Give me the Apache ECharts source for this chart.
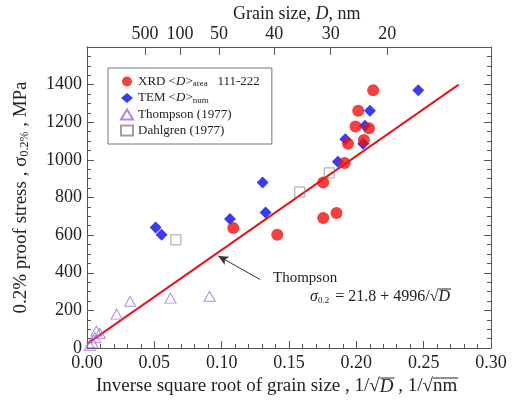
<!DOCTYPE html>
<html>
<head>
<meta charset="utf-8">
<script src="https://cdn.jsdelivr.net/npm/echarts@6/dist/echarts.min.js"></script>
<style>
  html, body {margin: 0; padding: 0; background: #fff;}
  #chart {width: 512px; height: 407px;}
</style>
</head>
<body>
<div id="chart"></div>
<script>
// values: [1/sqrt(D), stress MPa]
var xrdPoints = [[0.1086, 638], [0.1413, 602], [0.1754, 691], [0.1853, 718], [0.1754, 880], [0.1913, 984],
  [0.1938, 1086], [0.2056, 1106], [0.2094, 1168], [0.1994, 1177], [0.2014, 1261], [0.2125, 1370]];
var temPoints = [[0.051, 641], [0.0554, 602], [0.1062, 686], [0.1304, 880], [0.1326, 720], [0.1863, 990],
  [0.1918, 1109], [0.2051, 1086], [0.2064, 1182], [0.2101, 1261], [0.246, 1370]];
var thompsonPoints = [[0.002, 15], [0.004, 30], [0.006, 55], [0.007, 90], [0.0095, 78], [0.022, 180],
  [0.032, 248], [0.062, 265], [0.091, 275]];
var dahlgrenPoints = [[0.066, 575], [0.158, 829], [0.1799, 931]];

// Thompson fit line ends
var fitX = [0, 0.276];
var fitY = [22, 1400];

// top axis (grain size) ticks, as placed in the picture
var topTickPos = [0.043, 0.069, 0.098, 0.139, 0.181, 0.223];
var topTickLabels = ['500', '100', '50', '40', '30', '20'];

var arrowFrom = [0.1286, 364];
var arrowTo = [0.0975, 489];

var serif = '"Liberation Serif", "DejaVu Serif", serif';
var axisColor = '#555';

var chart = echarts.init(document.getElementById('chart'));

var fitLine = fitX.map(function (x, i) { return [x, fitY[i]]; });

// text width helper, used to put the bars over the square roots
var ctx = document.createElement('canvas').getContext('2d');
function textW(str, size, italic) {
    ctx.font = (italic ? 'italic ' : '') + size + 'px ' + serif;
    return ctx.measureText(str).width;
}

var xTitleLeft = 96, xTitleTop = 377, xTitleSize = 19;
var xPre = 'Inverse square root of grain size , 1/√';
var bar1Start = xTitleLeft + textW(xPre, xTitleSize);
var bar1End = bar1Start + textW('D', xTitleSize, true);
var bar2Start = bar1End + textW(' , 1/√', xTitleSize);
var bar2End = bar2Start + textW('nm', xTitleSize);

var fLeft = 310, fTop = 289, fSize = 16;
var bar3Start = fLeft + textW('σ', fSize, true) + textW('0.2', 9) + 2 + textW(' = 21.8 + 4996/√', fSize);
var bar3End = bar3Start + textW('D', fSize, true);

function bar(x1, x2, y) {
    return {
        type: 'line',
        shape: {x1: x1, y1: y, x2: x2 + 1, y2: y},
        style: {stroke: '#222', lineWidth: 1}
    };
}

var option = {
    backgroundColor: '#fff',
    animation: false,
    textStyle: {fontFamily: serif},
    grid: {left: 87, right: 21, top: 47, bottom: 59},
    legend: {
        orient: 'vertical',
        left: 108,
        top: 68,
        itemWidth: 12,
        itemHeight: 10,
        itemGap: 3,
        padding: [7, 12, 7, 12],
        borderColor: '#777',
        borderWidth: 1,
        data: ['XRD', 'TEM', 'Thompson (1977)', 'Dahlgren (1977)'],
        textStyle: {
            fontFamily: serif, fontSize: 13, color: '#222',
            rich: {
                n: {fontFamily: serif, fontSize: 13, color: '#222'},
                i: {fontFamily: serif, fontSize: 13, fontStyle: 'italic', color: '#222'},
                s: {fontFamily: serif, fontSize: 9, color: '#222', verticalAlign: 'bottom', padding: [5, 0, 0, 0]}
            }
        },
        formatter: function (name) {
            if (name === 'XRD') return '{n|XRD <}{i|D}{n|>}{s|area}{n|   111-222}';
            if (name === 'TEM') return '{n|TEM <}{i|D}{n|>}{s|num}';
            return '{n|' + name + '}';
        }
    },
    xAxis: [{
        type: 'value',
        min: 0, max: 0.3, interval: 0.05,
        position: 'bottom',
        axisLine: {show: true, onZero: false, lineStyle: {color: axisColor, width: 1}},
        axisTick: {show: true, inside: true, length: 7, lineStyle: {color: axisColor}},
        minorTick: {show: true, splitNumber: 5, length: 4, lineStyle: {color: axisColor}},
        splitLine: {show: false},
        axisLabel: {
            color: '#222', fontSize: 18, fontFamily: serif, margin: 6,
            formatter: function (v) { return v.toFixed(2); }
        }
    }, {
        type: 'value',
        min: 0, max: 0.3,
        position: 'top',
        axisLine: {show: true, onZero: false, lineStyle: {color: axisColor, width: 1}},
        axisTick: {show: true, inside: true, length: 8, customValues: topTickPos, lineStyle: {color: axisColor}},
        splitLine: {show: false},
        axisLabel: {
            color: '#222', fontSize: 18, fontFamily: serif, margin: 4,
            customValues: topTickPos,
            formatter: function (v) {
                var k = topTickPos.indexOf(v);
                return k >= 0 ? topTickLabels[k] : '';
            }
        }
    }],
    yAxis: [{
        type: 'value',
        min: 0, max: 1600, interval: 200,
        position: 'left',
        name: '{n|0.2% proof stress , σ}{s|0.2%}{n| , MPa}',
        nameLocation: 'middle',
        nameGap: 56,
        nameRotate: 90,
        nameTextStyle: {
            rich: {
                n: {fontFamily: serif, fontSize: 19, color: '#222'},
                s: {fontFamily: serif, fontSize: 12, color: '#222', verticalAlign: 'bottom', padding: [7, 0, 0, 0]}
            }
        },
        axisLine: {show: true, onZero: false, lineStyle: {color: axisColor, width: 1}},
        axisTick: {show: true, inside: true, length: 7, lineStyle: {color: axisColor}},
        minorTick: {show: true, splitNumber: 4, length: 4, lineStyle: {color: axisColor}},
        splitLine: {show: false},
        axisLabel: {
            color: '#222', fontSize: 18, fontFamily: serif, margin: 5,
            formatter: function (v) { return v === 1600 ? '' : v; }
        }
    }, {
        type: 'value',
        min: 0, max: 1600, interval: 200,
        position: 'right',
        axisLine: {show: true, onZero: false, lineStyle: {color: axisColor, width: 1}},
        axisTick: {show: true, inside: true, length: 7, lineStyle: {color: axisColor}},
        minorTick: {show: true, splitNumber: 4, length: 4, lineStyle: {color: axisColor}},
        splitLine: {show: false},
        axisLabel: {show: false}
    }],
    series: [{
        name: 'Thompson fit',
        type: 'line',
        data: fitLine,
        symbol: 'none',
        lineStyle: {color: '#e4161c', width: 2},
        z: 1,
        markLine: {
            silent: true,
            symbol: ['none', 'arrow'],
            symbolSize: [7, 10],
            label: {show: false},
            lineStyle: {color: '#333', width: 1, type: 'solid'},
            data: [[{coord: arrowFrom}, {coord: arrowTo}]]
        }
    }, {
        name: 'XRD',
        type: 'scatter',
        data: xrdPoints,
        symbol: 'circle',
        symbolSize: 12,
        itemStyle: {color: '#ee1111'},
        z: 4
    }, {
        name: 'TEM',
        type: 'scatter',
        data: temPoints,
        symbol: 'diamond',
        symbolSize: 12,
        itemStyle: {color: '#0a0ae6'},
        z: 3
    }, {
        name: 'Thompson (1977)',
        type: 'scatter',
        data: thompsonPoints,
        symbol: 'triangle',
        symbolSize: [11, 10],
        itemStyle: {color: 'rgba(0,0,0,0)', borderColor: '#9a6ad8', borderWidth: 1},
        z: 2
    }, {
        name: 'Dahlgren (1977)',
        type: 'scatter',
        data: dahlgrenPoints,
        symbol: 'rect',
        symbolSize: 10,
        itemStyle: {color: 'rgba(0,0,0,0)', borderColor: '#888', borderWidth: 1},
        z: 2
    }],
    graphic: [{
        type: 'text', left: 233, top: 5,
        style: {
            text: '{n|Grain size, }{i|D}{n|, nm}',
            rich: {
                n: {fontFamily: serif, fontSize: 18, fill: '#222'},
                i: {fontFamily: serif, fontSize: 18, fontStyle: 'italic', fill: '#222'}
            }
        }
    }, {
        type: 'text', left: xTitleLeft, top: xTitleTop,
        style: {
            text: '{n|' + xPre + '}{i|D}{n| , 1/√nm}',
            rich: {
                n: {fontFamily: serif, fontSize: xTitleSize, fill: '#222'},
                i: {fontFamily: serif, fontSize: xTitleSize, fontStyle: 'italic', fill: '#222'}
            }
        }
    }, bar(bar1Start, bar1End, xTitleTop + 1), bar(bar2Start, bar2End, xTitleTop + 1), {
        type: 'text', left: 273, top: 271,
        style: {text: 'Thompson', fontFamily: serif, fontSize: 15, fill: '#222'}
    }, {
        type: 'text', left: fLeft, top: fTop,
        style: {
            text: '{i|σ}{s|0.2}{n| = 21.8 + 4996/√}{i|D}',
            rich: {
                n: {fontFamily: serif, fontSize: fSize, fill: '#222'},
                i: {fontFamily: serif, fontSize: fSize, fontStyle: 'italic', fill: '#222'},
                s: {fontFamily: serif, fontSize: 9, fill: '#222', verticalAlign: 'bottom', padding: [6, 2, 0, 0]}
            }
        }
    }, bar(bar3Start, bar3End, fTop)]
};

chart.setOption(option);
</script>
</body>
</html>
